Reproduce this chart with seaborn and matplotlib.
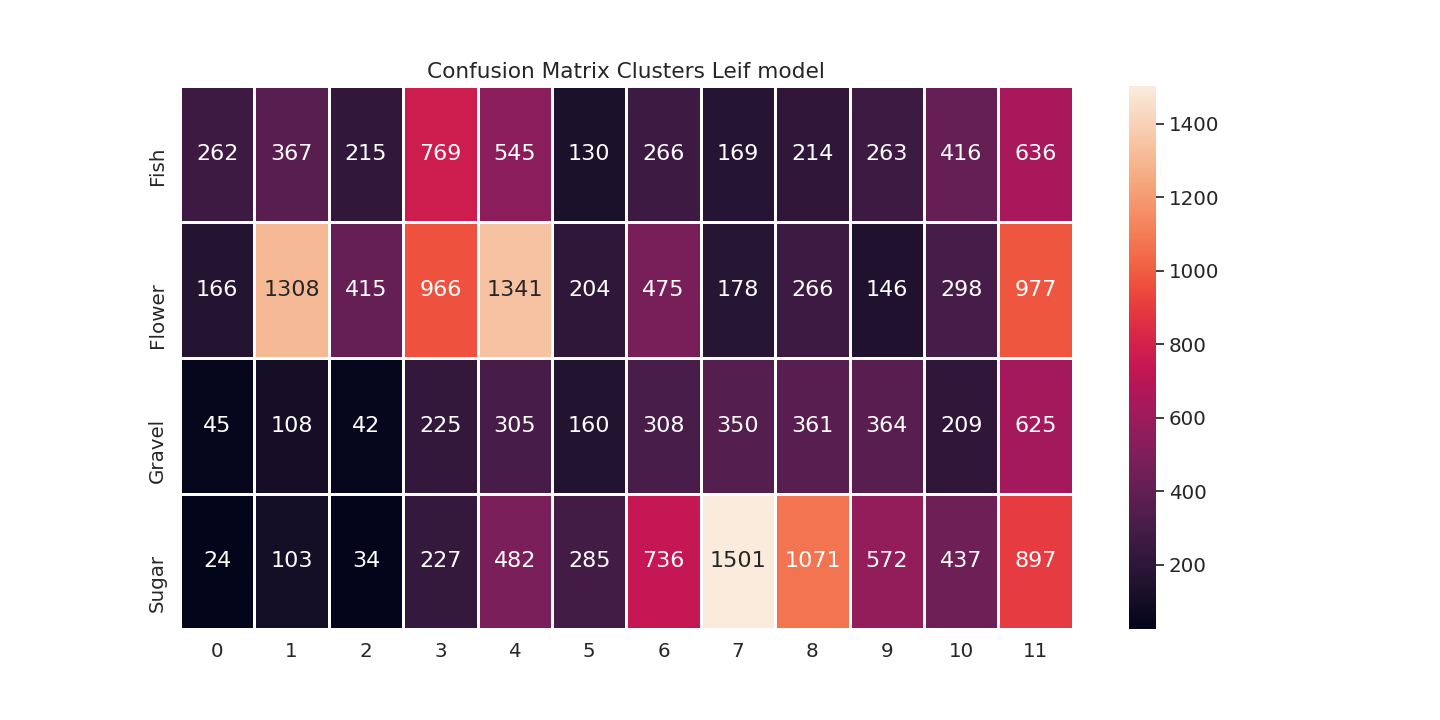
import matplotlib
matplotlib.use("Agg")
import matplotlib.pyplot as plt
import seaborn as sns
import numpy as np
import pandas as pd

rows = ["Fish", "Flower", "Gravel", "Sugar"]
cols = [str(i) for i in range(12)]
fish = [262, 367, 215, 769, 545, 130, 266, 169, 214, 263, 416, 636]
flower = [166, 1308, 415, 966, 1341, 204, 475, 178, 266, 146, 298, 977]
gravel = [45, 108, 42, 225, 305, 160, 308, 350, 361, 364, 209, 625]
sugar = [24, 103, 34, 227, 482, 285, 736, 1501, 1071, 572, 437, 897]

df = pd.DataFrame([fish, flower, gravel, sugar], index=rows, columns=cols)

sns.set(font_scale=1.3)
fig, ax = plt.subplots(figsize=(14.4, 7.2), dpi=100)
fig.subplots_adjust(bottom=0.126, top=0.88, left=0.125, right=0.9)
sns.heatmap(df, annot=True, fmt="d", linewidths=1, linecolor="white", ax=ax,
            annot_kws={"size": 16})
for t in ax.get_yticklabels():
    t.set_verticalalignment("center_baseline")
ax.set_title("Confusion Matrix Clusters Leif model")
fig.savefig("out.png", dpi=100)
